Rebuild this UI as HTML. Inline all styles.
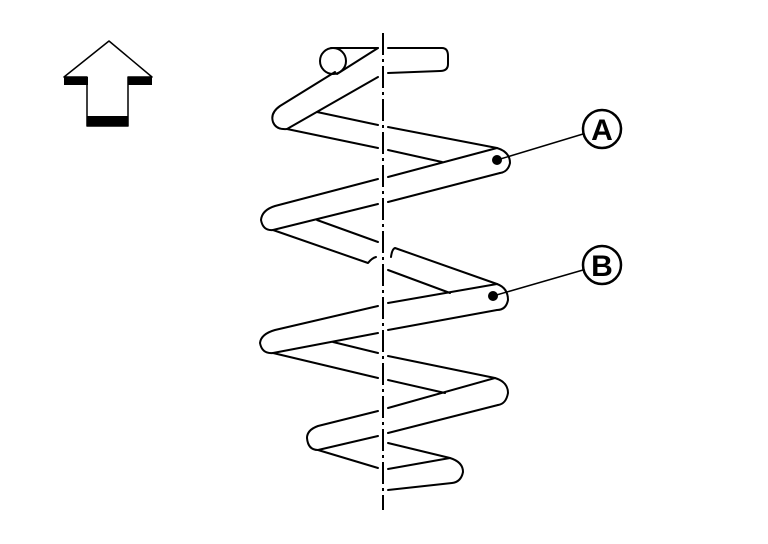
<!DOCTYPE html>
<html><head><meta charset="utf-8"><style>html,body{margin:0;padding:0;background:#fff}svg{display:block}</style></head>
<body>
<svg width="768" height="544" viewBox="0 0 768 544" xmlns="http://www.w3.org/2000/svg">
<g fill="none" stroke="#000" stroke-width="2" stroke-linecap="round" stroke-linejoin="round">
<!-- arrow -->
<polygon points="109,41 64,77 87,77 87,126 128,126 128,77 152,77" stroke-width="1.5"/>
<!-- top end -->
<circle cx="333" cy="61" r="13"/>
<path d="M331,48 L378,48 M388,48 L442,48 Q448,48 448,56 L448,64 Q448,71 440,71 L388,73"/>
<path d="M378,48 L337,74"/>
<path d="M335,72 L280,106 Q270,113 273,122 Q276,130 287,129"/>
<path d="M378,77 L287,129"/>
<!-- coil 1 back -->
<path d="M287,129 L378,148 M388,150 L442,162"/>
<path d="M317,112 L378,125 M388,127 L497,148 Q510,152 510,163 Q508,172 500,173"/>
<!-- coil A front -->
<path d="M497,148 L388,177 M378,179 L275,206 Q262,210 261,220 Q263,231 273,230"/>
<path d="M500,173 L388,202 M378,204 L273,230"/>
<!-- coil 2 back -->
<path d="M273,230 L368,263 Q372,258 376,257"/>
<path d="M317,220 L378,242"/>
<path d="M391,257 Q392,249 395,248 L497,284"/>
<path d="M388,270 L450,293"/>
<!-- coil B front -->
<path d="M497,284 Q508,288 508,300 Q506,310 497,310"/>
<path d="M497,284 L388,303 M378,306 L275,330 Q261,334 260,343 Q262,354 273,353"/>
<path d="M497,310 L388,330 M378,333 L273,353"/>
<!-- coil 3 back -->
<path d="M273,353 L378,378 M388,380 L445,393"/>
<path d="M333,342 L378,353 M388,356 L495,378 Q508,382 508,393 Q506,404 498,405"/>
<!-- coil 3 front -->
<path d="M495,378 L388,408 M378,411 L318,426 Q307,430 307,438 Q308,450 318,450"/>
<path d="M498,405 L388,433 M378,436 L318,450"/>
<!-- bottom -->
<path d="M318,450 L378,468"/>
<path d="M388,443 L450,458 Q463,462 463,472 Q461,482 452,483 L388,490"/>
<path d="M388,469 L450,458"/>
</g>
<!-- centerline -->
<line x1="383" y1="33" x2="383" y2="510" stroke="#000" stroke-width="2" stroke-dasharray="22,4,3,4"/>
<!-- arrow thick parts -->
<rect x="64" y="77" width="24" height="8" fill="#000"/>
<rect x="128" y="77" width="24" height="8" fill="#000"/>
<rect x="87" y="116" width="41" height="10" fill="#000"/>
<!-- leaders -->
<g stroke="#000" stroke-width="1.5">
<line x1="497" y1="160" x2="583" y2="134"/>
<line x1="493" y1="296" x2="583" y2="270"/>
</g>
<circle cx="497" cy="160" r="5" fill="#000"/>
<circle cx="493" cy="296" r="5" fill="#000"/>
<circle cx="602" cy="129" r="19" fill="#fff" stroke="#000" stroke-width="2.5"/>
<circle cx="602" cy="265" r="19" fill="#fff" stroke="#000" stroke-width="2.5"/>
<text x="602" y="140" text-anchor="middle" font-family="Liberation Sans, sans-serif" font-weight="bold" font-size="30">A</text>
<text x="602" y="276" text-anchor="middle" font-family="Liberation Sans, sans-serif" font-weight="bold" font-size="30">B</text>
</svg>
</body></html>
